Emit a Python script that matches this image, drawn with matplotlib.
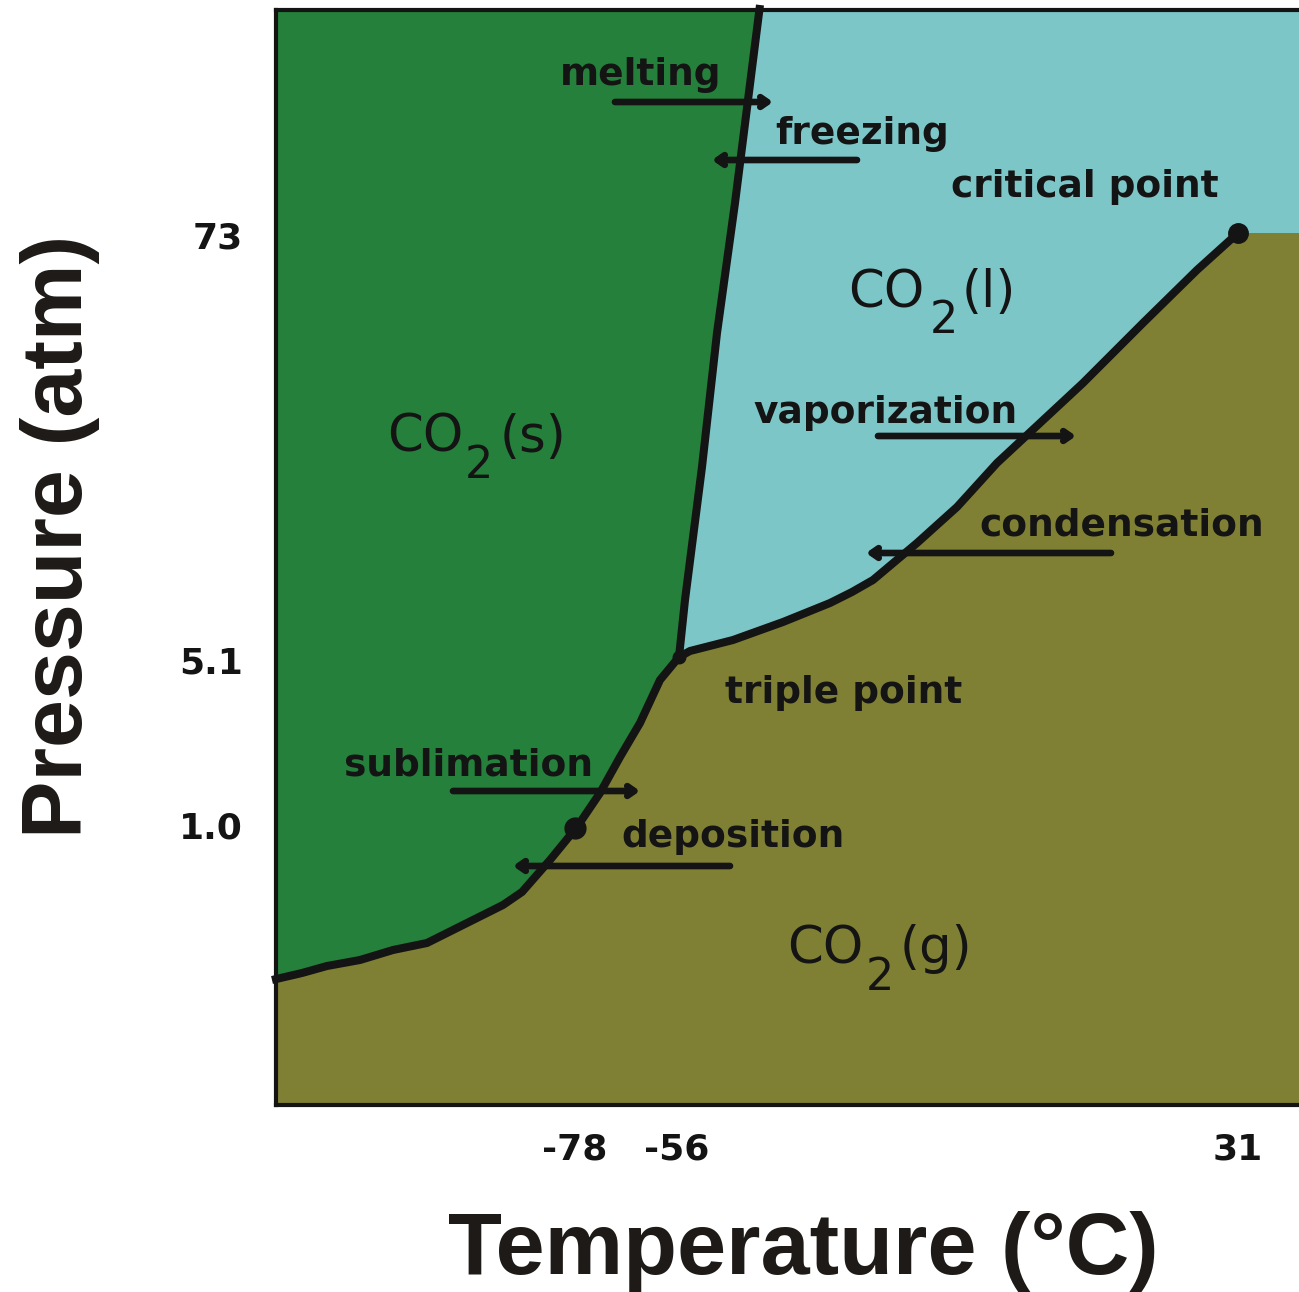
import matplotlib.pyplot as plt

# diagram units: x = pixels from the left axis, y = pixels up from the bottom axis
x_max, y_max = 1023, 1095

# solid / gas boundary, up to the triple point
subl_x = [-4, 26, 51, 84, 117, 151, 187, 227, 246, 274, 301, 324, 344, 364, 384, 403]
subl_y = [125, 132, 139, 145, 155, 162, 180, 200, 213, 245, 278, 312, 348, 382, 425, 448]

# liquid / gas boundary, triple point to critical point
vap_x = [403, 414, 457, 507, 554, 576, 597, 641, 681, 721, 764, 807, 867, 921, 962]
vap_y = [448, 454, 465, 483, 502, 513, 525, 562, 598, 642, 682, 722, 782, 835, 872]

# solid / liquid boundary, triple point upwards
melt_x = [403, 409, 426, 441, 459, 484]
melt_y = [448, 505, 638, 772, 902, 1100]

# special points: 1 atm sublimation, triple, critical
pt_x = [299, 403, 962]
pt_y = [277, 448, 872]
pt_size = [15, 9, 14]

x_ticks = [299, 401, 962]
x_labels = ['-78', '-56', '31']
y_ticks = [870, 445, 280]
y_labels = ['73', '5.1', '1.0']

# process arrows: (tail x, head x, y)
arrow_tail = [339, 581, 602, 835, 177, 454]
arrow_head = [497, 436, 800, 590, 364, 237]
arrow_y = [1003, 945, 669, 552, 314, 239]

# process / point labels: centre x, baseline y
label_text = ['melting', 'freezing', 'critical point', 'vaporization', 'condensation',
              'triple point', 'sublimation', 'deposition']
label_x = [365, 586, 809, 610, 846, 568, 193, 457]
label_y = [1020, 961, 908, 682, 570, 402, 330, 258]

# phase labels CO2(l), CO2(s), CO2(g): left of "CO", left of "2", left of "(x)", baseline, sub baseline
phase_tag = ['(l)', '(s)', '(g)']
phase_co_x = [572, 111, 511]
phase_sub_x = [654, 189, 590]
phase_tag_x = [686, 224, 624]
phase_base = [798, 653, 142]
phase_sub_base = [772, 627, 115]

green = '#24803a'
cyan = '#7dc6c8'
olive = '#808034'
ink = '#141414'

fig = plt.figure(figsize=(12.99, 12.92), dpi=100)
ax = fig.add_axes([276 / 1299, 187 / 1292, 1023 / 1299, 1095 / 1292])
ax.set_xlim(0, x_max)
ax.set_ylim(0, y_max)
ax.set_facecolor(cyan)

# solid region: left of melting curve, above sublimation curve
solid_x = [0] + melt_x[::-1] + subl_x[::-1]
solid_y = [y_max] + melt_y[::-1] + subl_y[::-1]
ax.fill(solid_x, solid_y, color=green, lw=0, zorder=1)

# gas region: below sublimation + vaporization, flat to the right of the critical point
gas_x = [0] + subl_x + vap_x[1:] + [x_max, x_max]
gas_y = [0] + subl_y + vap_y[1:] + [vap_y[-1], 0]
ax.fill(gas_x, gas_y, color=olive, lw=0, zorder=1)

for cx, cy in [(subl_x, subl_y), (vap_x, vap_y), (melt_x, melt_y)]:
    ax.plot(cx, cy, color=ink, lw=5.8, solid_capstyle='butt', solid_joinstyle='round',
            zorder=3, clip_on=False)

for px, py, ms in zip(pt_x, pt_y, pt_size):
    ax.plot(px, py, 'o', color=ink, ms=ms, zorder=4)

for tail, head, ay in zip(arrow_tail, arrow_head, arrow_y):
    ax.annotate('', xy=(head, ay), xytext=(tail, ay),
                arrowprops=dict(arrowstyle='->,head_length=0.5,head_width=0.35',
                                color=ink, lw=4.8, shrinkA=0, shrinkB=0), zorder=5)

for txt, lx, ly in zip(label_text, label_x, label_y):
    ax.text(lx, ly, txt, ha='center', va='baseline', fontsize=27,
            fontweight='bold', family='DejaVu Sans', color=ink, zorder=6)

for i in range(3):
    ax.text(phase_co_x[i], phase_base[i], 'CO', ha='left', va='baseline',
            fontsize=37, family='DejaVu Sans', color=ink, zorder=6)
    ax.text(phase_sub_x[i], phase_sub_base[i], '2', ha='left', va='baseline',
            fontsize=32, family='DejaVu Sans', color=ink, zorder=6)
    ax.text(phase_tag_x[i], phase_base[i], phase_tag[i], ha='left', va='baseline',
            fontsize=37, family='DejaVu Sans', color=ink, zorder=6)

ax.set_xticks(x_ticks, x_labels)
ax.set_yticks(y_ticks, y_labels)
ax.tick_params(length=0, labelsize=26, colors=ink)
ax.tick_params(axis='x', pad=20)
ax.tick_params(axis='y', pad=24)
for lab in ax.get_xticklabels() + ax.get_yticklabels():
    lab.set_fontweight('bold')
    lab.set_family('DejaVu Sans')

for side in ['left', 'top', 'bottom']:
    ax.spines[side].set_linewidth(3)
    ax.spines[side].set_color(ink)
    ax.spines[side].set_zorder(7)
ax.spines['right'].set_visible(False)

ax.set_xlabel('Temperature (°C)', fontsize=63.5, fontweight='bold',
              family='Liberation Sans', color='#1e1a18')
ax.set_ylabel('Pressure (atm)', fontsize=62, fontweight='bold',
              family='Liberation Sans', color='#1e1a18')
ax.xaxis.label.set_va('center')
ax.yaxis.label.set_va('center')
ax.xaxis.set_label_coords(527 / 1023, -146 / 1095)
ax.yaxis.set_label_coords(-216 / 1023, 569 / 1095)

fig.savefig('out.png', dpi=100)
